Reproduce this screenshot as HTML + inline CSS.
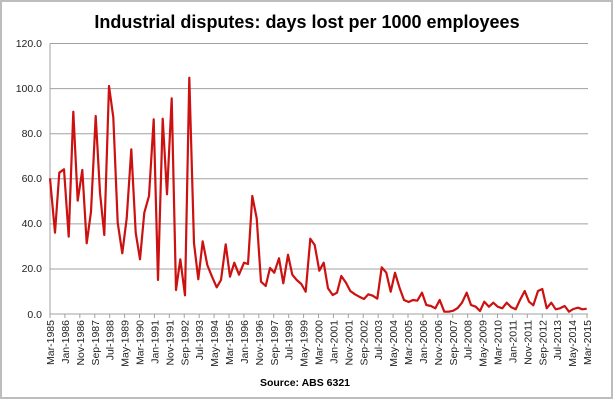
<!DOCTYPE html>
<html><head><meta charset="utf-8"><style>
body{margin:0;background:#fff;}
svg{display:block;font-family:"Liberation Sans",Arial,sans-serif;}
</style></head><body>
<svg width="614" height="400" viewBox="0 0 614 400" xmlns="http://www.w3.org/2000/svg">
<rect x="1" y="1" width="611" height="397" fill="#fff" stroke="#bdbdbd" stroke-width="2"/>
<text x="307" y="28" text-anchor="middle" font-size="18" font-weight="bold" fill="#000">Industrial disputes: days lost per 1000 employees</text>
<g stroke="#a0a0a0" stroke-width="1">
<line x1="50" y1="43.5" x2="588" y2="43.5"/>
<line x1="50" y1="88.6" x2="588" y2="88.6"/>
<line x1="50" y1="133.7" x2="588" y2="133.7"/>
<line x1="50" y1="178.8" x2="588" y2="178.8"/>
<line x1="50" y1="223.9" x2="588" y2="223.9"/>
<line x1="50" y1="269" x2="588" y2="269"/>
<line x1="50" y1="314" x2="588" y2="314"/>
<line x1="50" y1="43.5" x2="50" y2="314"/>
<path d="M50,314v4M64.92,314v4M79.83,314v4M94.75,314v4M109.67,314v4M124.58,314v4M139.5,314v4M154.42,314v4M169.33,314v4M184.25,314v4M199.17,314v4M214.08,314v4M229,314v4M243.92,314v4M258.83,314v4M273.75,314v4M288.67,314v4M303.58,314v4M318.5,314v4M333.42,314v4M348.33,314v4M363.25,314v4M378.17,314v4M393.08,314v4M408,314v4M422.92,314v4M437.83,314v4M452.75,314v4M467.67,314v4M482.58,314v4M497.5,314v4M512.42,314v4M527.33,314v4M542.25,314v4M557.17,314v4M572.08,314v4M587,314v4"/>
</g>
<g font-size="10.5" fill="#222" text-anchor="end">
<text x="42" y="47">120.0</text><text x="42" y="92">100.0</text><text x="42" y="137">80.0</text>
<text x="42" y="182">60.0</text><text x="42" y="227">40.0</text><text x="42" y="272">20.0</text><text x="42" y="318">0.0</text>
</g>
<g font-size="10.5" fill="#222" text-anchor="end">
<text transform="translate(54,320) rotate(-90)">Mar-1985</text>
<text transform="translate(68.92,320) rotate(-90)">Jan-1986</text>
<text transform="translate(83.83,320) rotate(-90)">Nov-1986</text>
<text transform="translate(98.75,320) rotate(-90)">Sep-1987</text>
<text transform="translate(113.67,320) rotate(-90)">Jul-1988</text>
<text transform="translate(128.58,320) rotate(-90)">May-1989</text>
<text transform="translate(143.5,320) rotate(-90)">Mar-1990</text>
<text transform="translate(158.42,320) rotate(-90)">Jan-1991</text>
<text transform="translate(173.33,320) rotate(-90)">Nov-1991</text>
<text transform="translate(188.25,320) rotate(-90)">Sep-1992</text>
<text transform="translate(203.17,320) rotate(-90)">Jul-1993</text>
<text transform="translate(218.08,320) rotate(-90)">May-1994</text>
<text transform="translate(233,320) rotate(-90)">Mar-1995</text>
<text transform="translate(247.92,320) rotate(-90)">Jan-1996</text>
<text transform="translate(262.83,320) rotate(-90)">Nov-1996</text>
<text transform="translate(277.75,320) rotate(-90)">Sep-1997</text>
<text transform="translate(292.67,320) rotate(-90)">Jul-1998</text>
<text transform="translate(307.58,320) rotate(-90)">May-1999</text>
<text transform="translate(322.5,320) rotate(-90)">Mar-2000</text>
<text transform="translate(337.42,320) rotate(-90)">Jan-2001</text>
<text transform="translate(352.33,320) rotate(-90)">Nov-2001</text>
<text transform="translate(367.25,320) rotate(-90)">Sep-2002</text>
<text transform="translate(382.17,320) rotate(-90)">Jul-2003</text>
<text transform="translate(397.08,320) rotate(-90)">May-2004</text>
<text transform="translate(412,320) rotate(-90)">Mar-2005</text>
<text transform="translate(426.92,320) rotate(-90)">Jan-2006</text>
<text transform="translate(441.83,320) rotate(-90)">Nov-2006</text>
<text transform="translate(456.75,320) rotate(-90)">Sep-2007</text>
<text transform="translate(471.67,320) rotate(-90)">Jul-2008</text>
<text transform="translate(486.58,320) rotate(-90)">May-2009</text>
<text transform="translate(501.5,320) rotate(-90)">Mar-2010</text>
<text transform="translate(516.42,320) rotate(-90)">Jan-2011</text>
<text transform="translate(531.33,320) rotate(-90)">Nov-2011</text>
<text transform="translate(546.25,320) rotate(-90)">Sep-2012</text>
<text transform="translate(561.17,320) rotate(-90)">Jul-2013</text>
<text transform="translate(576.08,320) rotate(-90)">May-2014</text>
<text transform="translate(591,320) rotate(-90)">Mar-2015</text>
</g>
<polyline fill="none" stroke="#cc1111" stroke-width="2.2" stroke-linejoin="round" points="50,178.3 55,232.7 59.3,172.7 64,169.3 68.7,236.7 73.3,111.7 77.7,200.7 82.3,170 86.7,243.3 91,211.7 95.7,116 100,192.7 104.3,235 109,86 113.3,117.3 117.7,222.7 122.3,253.3 126.7,218.3 131.3,149.3 135.7,232.7 140,259.3 144.3,212.7 149,196 153.7,119.3 158,280 162.7,118.7 167,194.3 171.7,98.3 176,290 180.3,259.3 185,295.3 189.3,77.7 194,243.3 198.3,279.3 202.7,241.3 207.3,265 212,276.7 216.7,287.3 221,280 225.7,244.3 230,276.7 234.3,262.7 239,274.7 244,262.7 248,264 252.3,196 256.7,218.3 261,281.7 265.7,286 270,268 274.3,272.7 279,258.3 283.3,283.3 288,254.7 292.3,274.7 296.7,280 301.3,284 305.7,291.7 310.3,238.7 314.7,245 319.3,270.7 323.7,262.7 328,288.3 332.7,295 337,292.7 341.3,276 346,282.7 350.3,291 355,294.3 359.3,296.7 364,299 368.3,294.3 372.7,295.7 377.3,298.7 381.7,267.3 386.3,272.7 390.7,291.7 395,272.7 399.7,288.3 404,300 408.7,302 413,300 417.3,300.7 422,292.7 426.3,305 431,306 435.3,308.3 439.7,300 444.3,311.7 448.7,311.7 453.3,310.7 457.7,308 462,302.7 466.7,292.7 471,305 475.7,306.7 480,311 484.3,301.7 489,306.7 493.3,302.7 497.7,306.7 502.3,308.3 506.7,302.7 511.3,307.3 515.7,309.3 520,300 524.7,291 529,301.7 533.3,305.3 538,291 542.3,289 546.7,308.3 551.3,302.7 555.7,309.3 560,308.3 564.7,306 569,311.7 573.3,309 578,307.7 582.3,309.3 586.7,308.7"/>
<text x="305" y="386" text-anchor="middle" font-size="10.5" font-weight="bold" fill="#000">Source: ABS 6321</text>
</svg>
</body></html>
